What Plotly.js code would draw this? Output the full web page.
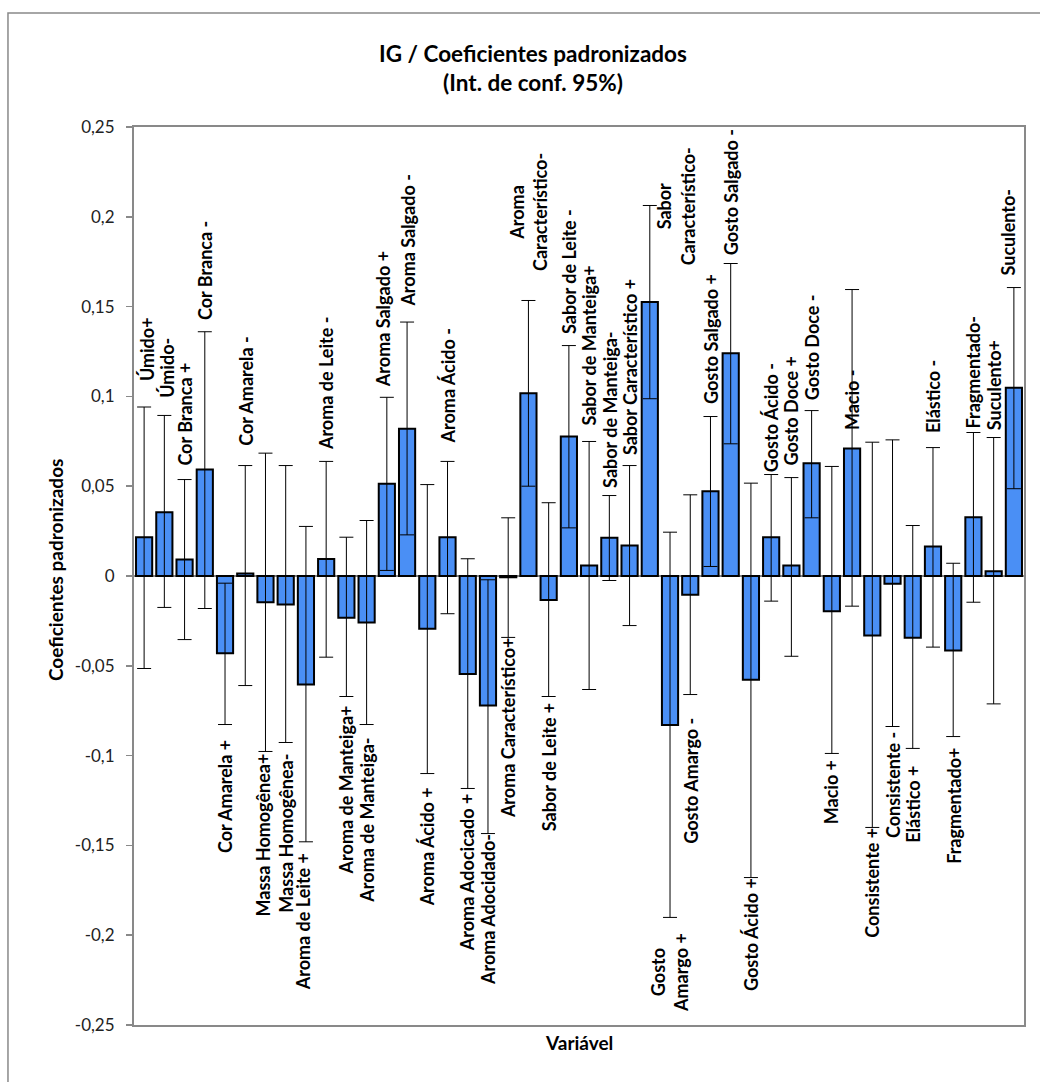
<!DOCTYPE html>
<html>
<head>
<meta charset="utf-8">
<script src="https://cdn.plot.ly/plotly-3.0.1.min.js"></script>
<style>html,body{margin:0;padding:0;background:#fff;}</style>
</head>
<body>
<div id="chart" style="width:1040px;height:1082px;"></div>
<script>
// ---- data ----
const categories = [
  "Úmido+", "Úmido-", "Cor Branca +", "Cor Branca -", "Cor Amarela +", "Cor Amarela -",
  "Massa Homogênea+", "Massa Homogênea-", "Aroma de Leite +", "Aroma de Leite -",
  "Aroma de Manteiga+", "Aroma de Manteiga-", "Aroma Salgado +", "Aroma Salgado -",
  "Aroma Ácido +", "Aroma Ácido -", "Aroma Adocicado +", "Aroma Adocidado-",
  "Aroma Característico+", "Aroma Característico-", "Sabor de Leite +", "Sabor de Leite -",
  "Sabor de Manteiga+", "Sabor de Manteiga-", "Sabor Característico +", "Sabor Característico-",
  "Gosto Amargo +", "Gosto Amargo -", "Gosto Salgado +", "Gosto Salgado -",
  "Gosto Ácido +", "Gosto Ácido -", "Gosto Doce +", "Gosto Doce -",
  "Macio +", "Macio -", "Consistente +", "Consistente -",
  "Elástico +", "Elástico -", "Fragmentado+", "Fragmentado-", "Suculento+", "Suculento-"
];
const coefficients = [
  0.0216, 0.0355, 0.0092, 0.0593, -0.0430, 0.0014,
  -0.0146, -0.0159, -0.0604, 0.0094,
  -0.0233, -0.0259, 0.0513, 0.0820,
  -0.0294, 0.0216, -0.0545, -0.0721,
  -0.0007, 0.1018, -0.0133, 0.0777,
  0.0058, 0.0213, 0.0170, 0.1525,
  -0.0829, -0.0105, 0.0472, 0.1240,
  -0.0578, 0.0216, 0.0058, 0.0628,
  -0.0196, 0.0710, -0.0331, -0.0043,
  -0.0344, 0.0164, -0.0415, 0.0327, 0.0027, 0.1048
];
const lowerBound = [
  -0.0515, -0.0175, -0.0354, -0.0181, -0.0827, -0.0610,
  -0.0977, -0.0927, -0.1480, -0.0452,
  -0.0671, -0.0827, 0.0031, 0.0229,
  -0.1100, -0.0210, -0.1183, -0.1434,
  -0.0342, 0.0500, -0.0671, 0.0268,
  -0.0632, -0.0025, -0.0276, 0.0987,
  -0.1901, -0.0660, 0.0053, 0.0736,
  -0.1679, -0.0140, -0.0447, 0.0324,
  -0.0988, -0.0168, -0.1400, -0.0838,
  -0.0960, -0.0396, -0.0894, -0.0146, -0.0712, 0.0486
];
const upperBound = [
  0.0941, 0.0894, 0.0537, 0.1360, -0.0040, 0.0615,
  0.0684, 0.0615, 0.0276, 0.0638,
  0.0216, 0.0309, 0.0995, 0.1414,
  0.0509, 0.0638, 0.0096, -0.0021,
  0.0324, 0.1534, 0.0408, 0.1283,
  0.0749, 0.0448, 0.0615, 0.2063,
  0.0244, 0.0452, 0.0888, 0.1740,
  0.0517, 0.0565, 0.0548, 0.0921,
  0.0610, 0.1595, 0.0745, 0.0758,
  0.0281, 0.0715, 0.0071, 0.0799, 0.0771, 0.1606
];
const yTickValues = [-0.25, -0.2, -0.15, -0.1, -0.05, 0, 0.05, 0.1, 0.15, 0.2, 0.25];
const yTickLabels = ["-0,25", "-0,2", "-0,15", "-0,1", "-0,05", "0", "0,05", "0,1", "0,15", "0,2", "0,25"];

// ---- label layout (display text with wraps, pixel offsets) ----
const wrappedLabels = {
  "Aroma Característico-": "Aroma<br>Característico-",
  "Sabor Característico-": "Sabor<br>Característico-",
  "Gosto Amargo +": "Gosto<br>Amargo +"
};
const labelGap = [
  26, 18, 14, 12, 16, 20, 2, 11, 11, 11, 9, 13, 10, 15, 14, 18, 5, 0, 0, 30, 7, 12,
  16, 8, 10, -60, 16, 23, 13, 8, 0, 2, 12, 10, 7, -141, 0, 6, 17, 15, 11, 4, 7, 12
];
const labelShiftX = {0: 3, 1: 3, 6: -3, 8: -3, 12: -4, 25: 26, 43: -6};

const errPlus = upperBound.map((u, i) => u - coefficients[i]);
const errMinus = lowerBound.map((l, i) => coefficients[i] - l);

const FONT = "Lato, 'Open Sans', sans-serif";
const labelFont = {family: FONT, size: 18, color: "#000", weight: 700};

const annotations = categories.map((c, i) => {
  const pos = coefficients[i] >= 0;
  return {
    x: c, y: pos ? upperBound[i] : lowerBound[i],
    xref: "x", yref: "y",
    text: wrappedLabels[c] || c,
    textangle: -90,
    showarrow: false,
    xanchor: "center",
    yanchor: pos ? "bottom" : "top",
    yshift: pos ? labelGap[i] : -labelGap[i],
    xshift: labelShiftX[i] || 0,
    borderpad: 0, borderwidth: 0,
    font: labelFont
  };
});

annotations.push({
  text: "Coeficientes padronizados", xref: "paper", yref: "paper",
  x: -0.0876, y: 0.5067, xanchor: "center", yanchor: "middle",
  textangle: -90, showarrow: false,
  font: {family: FONT, size: 19, color: "#000", weight: 700}
});
annotations.push({
  text: "Variável", xref: "paper", yref: "paper",
  x: 0.5, y: -0.02, xanchor: "center", yanchor: "middle",
  showarrow: false,
  font: {family: FONT, size: 19, color: "#000", weight: 700}
});

const trace = {
  type: "bar",
  x: categories,
  y: coefficients,
  marker: {color: "#4a8ff5", line: {color: "#000", width: 2}},
  error_y: {
    type: "data", symmetric: false,
    array: errPlus, arrayminus: errMinus,
    color: "#000", thickness: 1, width: 7
  },
  hoverinfo: "x+y"
};

const layout = {
  width: 1040, height: 1082,
  margin: {l: 134, r: 16, t: 127, b: 57},
  paper_bgcolor: "#fff", plot_bgcolor: "#fff",
  showlegend: false,
  bargap: 0.2,
  title: {
    text: "IG / Coeficientes padronizados<br>(Int. de conf. 95%)",
    x: 0.5125, xref: "container", xanchor: "center",
    y: 0.943, yref: "container", yanchor: "middle",
    font: {family: FONT, size: 22.5, color: "#000", weight: 700}
  },
  xaxis: {
    type: "category", range: [-0.5, categories.length - 0.5],
    showticklabels: false, ticks: "",
    showline: true, mirror: true, linecolor: "#898989", linewidth: 2,
    showgrid: false, zeroline: false, fixedrange: true
  },
  yaxis: {
    range: [-0.25, 0.25],
    tickvals: yTickValues, ticktext: yTickLabels,
    ticks: "outside", ticklen: 6, tickcolor: "#898989", tickwidth: 1.5,
    ticklabelstandoff: 8,
    tickfont: {family: FONT, size: 17, color: "#222"},
    showline: true, mirror: true, linecolor: "#898989", linewidth: 2,
    showgrid: false,
    zeroline: true, zerolinecolor: "#898989", zerolinewidth: 1.5,
    fixedrange: true
  },
  shapes: [{
    type: "rect", xref: "paper", yref: "paper",
    x0: -0.1416, x1: 1.06, y0: -0.12, y1: 1.1269,
    line: {color: "#898989", width: 1.5}, fillcolor: "rgba(0,0,0,0)", layer: "below"
  }],
  annotations: annotations
};

Plotly.newPlot("chart", [trace], layout, {displayModeBar: false, staticPlot: true});
</script>
</body>
</html>
